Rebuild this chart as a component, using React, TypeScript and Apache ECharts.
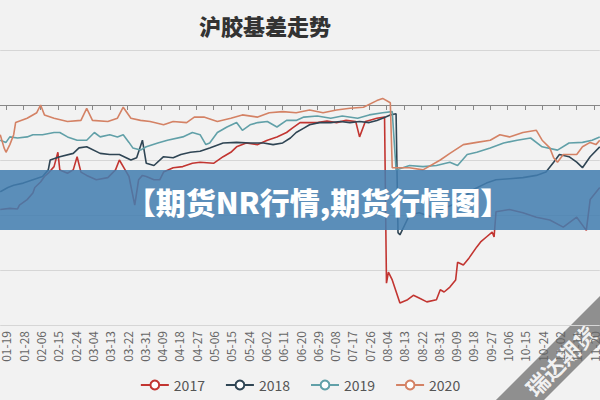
import React, { useEffect, useRef } from "react";
import * as echarts from "echarts";

const titleText = "沪胶基差走势";
const bannerText = "【期货NR行情,期货行情图】";
const watermarkText = "瑞达期货";
const seriesNames = ["2017", "2018", "2019", "2020"];
const seriesColors = ["#c23531", "#2f4554", "#61a0a8", "#d48265"];

// calendar days (leap year) 01-16 .. 11-23
const monthLengths = [31, 29, 31, 30, 31, 30, 31, 31, 30, 31, 30, 31];
const categories: string[] = [];
for (let m = 1; m <= 11; m++) {
  for (let d = 1; d <= monthLengths[m - 1]; d++) {
    if (m === 1 && d < 16) continue;
    if (m === 11 && d > 23) continue;
    categories.push(String(m).padStart(2, "0") + "-" + String(d).padStart(2, "0"));
  }
}

const dates2017 = ["01-16","01-21","01-25","01-26","01-30","02-02","02-03","02-06","02-08","02-10","02-13","02-15","02-16","02-20","02-23","02-25","02-27","03-01","03-06","03-12","03-16","03-18","03-21","03-23","03-26","03-28","03-30","04-01","04-05","04-08","04-10","04-15","04-20","04-25","04-29","05-06","05-11","05-15","05-18","05-23","05-29","06-03","06-08","06-13","06-16","06-20","06-29","07-04","07-09","07-14","07-19","07-21","07-24","07-26","07-30","08-03","08-04","08-05","08-07","08-11","08-15","08-18","08-21","08-25","08-30","09-01","09-03","09-06","09-09","09-10","09-13","09-16","09-20","09-22","09-25","09-28","09-29","09-30","10-07","10-14","10-21","10-28","11-04","11-11","11-16","11-18","11-23"];
const values2017 = [-950,-940,-945,-910,-860,-800,-750,-700,-650,-620,-560,-430,-590,-620,-590,-470,-610,-640,-680,-660,-590,-500,-590,-650,-910,-680,-640,-650,-680,-680,-610,-570,-560,-530,-520,-530,-470,-430,-380,-345,-360,-320,-290,-250,-210,-160,-160,-145,-160,-140,-150,-290,-150,-140,-120,-110,-1620,-1520,-1590,-1800,-1770,-1730,-1755,-1790,-1770,-1680,-1700,-1655,-1590,-1430,-1455,-1390,-1290,-1245,-1200,-1155,-1200,-970,-950,-980,-1020,-1045,-1110,-1020,-1140,-860,-750];

const dates2018 = ["01-16","01-20","01-23","01-28","02-02","02-07","02-10","02-11","02-16","02-23","02-26","03-01","03-08","03-13","03-18","03-24","03-27","03-30","04-01","04-05","04-10","04-15","04-19","04-24","04-29","05-04","05-11","05-18","05-25","06-01","06-06","06-11","06-15","06-18","06-22","06-25","06-30","07-06","07-11","07-16","07-21","07-26","07-30","08-02","08-06","08-09","08-10","08-11","08-16","08-21","08-28","09-01","09-10","09-18","09-25","09-30","10-07","10-14","10-21","10-26","10-30","11-02","11-07","11-11","11-14","11-18","11-23"];
const values2018 = [-790,-750,-730,-710,-680,-650,-590,-500,-470,-440,-390,-380,-440,-450,-450,-500,-480,-320,-530,-550,-470,-480,-450,-430,-420,-390,-345,-340,-345,-345,-360,-345,-300,-250,-210,-180,-160,-160,-150,-160,-150,-160,-140,-120,-90,-80,-1160,-1180,-1000,-980,-1020,-950,-890,-770,-710,-680,-670,-660,-640,-610,-520,-450,-470,-520,-570,-470,-380];

const dates2019 = ["01-16","01-19","01-21","01-25","01-30","02-02","02-07","02-13","02-16","02-20","02-25","03-01","03-05","03-08","03-13","03-17","03-20","03-23","03-25","03-29","04-01","04-07","04-12","04-20","04-25","04-29","05-02","05-04","05-08","05-13","05-18","05-21","05-25","05-29","06-03","06-08","06-13","06-18","06-22","06-29","07-06","07-12","07-20","07-26","08-02","08-07","08-09","08-16","08-23","08-30","09-06","09-10","09-15","09-20","09-27","10-04","10-11","10-18","10-24","11-01","11-07","11-14","11-19","11-23"];
const values2019 = [-320,-340,-290,-300,-290,-270,-270,-250,-250,-290,-320,-320,-250,-290,-270,-290,-270,-340,-390,-410,-380,-345,-320,-290,-250,-270,-360,-345,-250,-200,-160,-230,-180,-160,-150,-200,-140,-140,-110,-100,-120,-100,-120,-90,-70,-60,-590,-550,-560,-550,-520,-550,-450,-430,-390,-345,-320,-300,-380,-410,-345,-340,-320,-290];

const dates2020 = ["01-16","01-18","01-19","01-21","01-23","01-24","01-30","02-04","02-06","02-08","02-13","02-20","02-27","03-01","03-04","03-12","03-17","03-20","03-24","03-29","04-03","04-10","04-15","04-22","04-26","05-01","05-08","05-15","05-21","05-29","06-04","06-11","06-18","06-25","07-02","07-09","07-16","07-23","07-30","08-02","08-06","08-07","08-16","08-23","09-01","09-06","09-13","09-20","09-27","10-02","10-07","10-14","10-21","10-24","10-28","10-30","11-01","11-04","11-11","11-14","11-18","11-21","11-23"];
const values2020 = [-270,-390,-430,-360,-270,-160,-120,-70,0,-90,-120,-150,-140,-30,-140,-150,-120,-20,-120,-140,-150,-180,-150,-160,-110,-110,-150,-120,-90,-110,-70,-60,-70,-45,-70,-45,-30,-20,40,60,20,-570,-570,-590,-500,-440,-360,-340,-320,-270,-290,-250,-230,-320,-390,-480,-520,-450,-450,-380,-340,-360,-320];

const allDates = [dates2017, dates2018, dates2019, dates2020];
const allValues = [values2017, values2018, values2019, values2020];

const yMin = -2000;
const yMax = 500;
const yStep = 500;

const FONT = '"Noto Sans CJK SC", "Noto Sans", sans-serif';

export default function App() {
  const ref = useRef<HTMLDivElement>(null);
  useEffect(() => {
    document.body.style.margin = "0";
    if (!ref.current) return;
    const chart = echarts.init(ref.current, undefined, { renderer: "svg" });
    const labelInterval = (i: number) => i >= 3 && (i - 3) % 9 === 0;
    chart.setOption({
      animation: false,
      backgroundColor: "#f2f2f2",
      color: seriesColors,
      textStyle: { fontFamily: FONT },
      title: {
        text: titleText,
        left: 194,
        top: 9,
        textStyle: { fontSize: 22, fontWeight: 900, color: "#333", fontFamily: FONT },
      },
      legend: {
        data: seriesNames,
        bottom: 3,
        left: "center",
        itemWidth: 28,
        itemHeight: 11,
        itemGap: 20,
        textStyle: { fontSize: 14, color: "#555", fontFamily: FONT },
      },
      grid: { left: 0, right: 0, top: 50, bottom: 75, containLabel: false },
      xAxis: [
        {
          type: "category",
          data: categories,
          boundaryGap: false,
          position: "bottom",
          axisLine: { show: false, onZero: false },
          axisTick: { show: false },
          axisLabel: { rotate: 90, interval: labelInterval, fontSize: 12, color: "#666", margin: 6 },
          splitLine: { show: false },
        },
        {
          type: "category",
          data: categories,
          boundaryGap: false,
          position: "bottom",
          axisLine: { show: true, onZero: true, lineStyle: { color: "#888", width: 1 } },
          axisTick: { show: true, interval: labelInterval, length: 5, lineStyle: { color: "#888" } },
          axisLabel: { show: false },
          splitLine: { show: false },
        },
      ],
      yAxis: {
        type: "value",
        min: yMin,
        max: yMax,
        interval: yStep,
        axisLabel: { show: false },
        axisLine: { show: false },
        axisTick: { show: false },
        splitLine: { lineStyle: { color: "#d6d6d6" } },
      },
      series: seriesNames.map((name, k) => ({
        name,
        type: "line",
        xAxisIndex: 0,
        data: allDates[k].map((d, i) => [d, allValues[k][i]]),
        symbol: "emptyCircle",
        symbolSize: 5,
        showSymbol: false,
        lineStyle: { width: 1.6, color: seriesColors[k] },
        itemStyle: { color: seriesColors[k] },
        z: 3 + k,
      })),
      graphic: [
        {
          type: "rect",
          shape: { x: 0, y: 170, width: 600, height: 60 },
          style: { fill: "rgba(66,126,176,0.86)" },
          z: 100,
        },
        {
          type: "text",
          x: 318,
          y: 201,
          style: {
            text: bannerText,
            fill: "#ffffff",
            font: '900 30px "Noto Sans CJK SC", sans-serif',
            textAlign: "center",
            textVerticalAlign: "middle",
          },
          z: 101,
        },
        {
          type: "group",
          x: 560,
          y: 360,
          rotation: Math.PI / 4,
          z: 102,
          children: [
            {
              type: "rect",
              shape: { x: -90, y: -17, width: 180, height: 34 },
              style: { fill: "rgba(110,110,110,0.75)" },
            },
            {
              type: "text",
              x: 0,
              y: 0,
              style: {
                text: watermarkText,
                fill: "rgba(255,255,255,0.9)",
                font: 'bold 22px "Noto Sans CJK SC", sans-serif',
                textAlign: "center",
                textVerticalAlign: "middle",
              },
            },
          ],
        },
      ],
    });
    return () => chart.dispose();
  }, []);
  return <div ref={ref} style={{ width: 600, height: 400 }} />;
}
